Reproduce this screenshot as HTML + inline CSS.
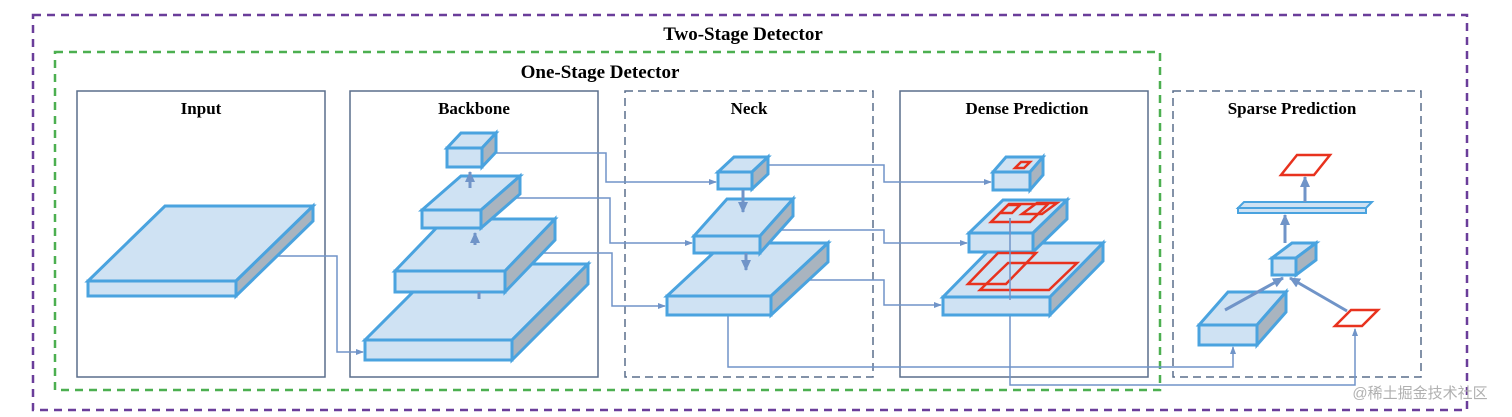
<!DOCTYPE html>
<html><head><meta charset="utf-8"><style>
html,body{margin:0;padding:0;background:#fff;}
svg{display:block;}
text{font-family:"Liberation Serif",serif;font-weight:bold;fill:#000;}
</style></head><body>
<svg width="1512" height="417" viewBox="0 0 1512 417" xmlns="http://www.w3.org/2000/svg">
<defs>
<marker id="a" markerWidth="8" markerHeight="8" refX="7" refY="4" orient="auto" markerUnits="userSpaceOnUse"><path d="M0,1 L8,4 L0,7 Z" fill="#7094c8"/></marker>
<marker id="b" markerWidth="12" markerHeight="12" refX="10" refY="6" orient="auto" markerUnits="userSpaceOnUse"><path d="M0,1 L11,6 L0,11 Z" fill="#7094c8"/></marker>
</defs>
<rect width="1512" height="417" fill="#fff"/>
<!-- frames -->
<rect x="33" y="15" width="1434" height="395" fill="none" stroke="#6a3d9a" stroke-width="2.5" stroke-dasharray="8,6"/>
<rect x="55" y="52" width="1105" height="338" fill="none" stroke="#4caf50" stroke-width="2.5" stroke-dasharray="8,6"/>
<g fill="none" stroke="#5a6e8c" stroke-width="1.5">
<rect x="77" y="91" width="248" height="286"/>
<rect x="350" y="91" width="248" height="286"/>
<rect x="625" y="91" width="248" height="286" stroke-dasharray="8,5"/>
<rect x="900" y="91" width="248" height="286"/>
<rect x="1173" y="91" width="248" height="286" stroke-dasharray="8,5"/>
</g>
<text x="743" y="40" font-size="19" text-anchor="middle">Two-Stage Detector</text>
<text x="600" y="78" font-size="19" text-anchor="middle">One-Stage Detector</text>
<g font-size="17" text-anchor="middle">
<text x="201" y="114" style="font-size:17px">Input</text>
<text x="474" y="114" style="font-size:17px">Backbone</text>
<text x="749" y="114" style="font-size:17px">Neck</text>
<text x="1027" y="114" style="font-size:17px">Dense Prediction</text>
<text x="1292" y="114" style="font-size:17px">Sparse Prediction</text>
</g>
<!-- connectors -->
<g fill="none" stroke="#7094c8" stroke-width="1.5">
<polyline points="270,256 337,256 337,352 363,352" marker-end="url(#a)"/>
<polyline points="482,153 606,153 606,182 716,182" marker-end="url(#a)"/>
<polyline points="505,198 610,198 610,243 692,243" marker-end="url(#a)"/>
<polyline points="530,253 612,253 612,306 665,306" marker-end="url(#a)"/>
<polyline points="760,165 884,165 884,182 991,182" marker-end="url(#a)"/>
<polyline points="780,230 884,230 884,243 967,243" marker-end="url(#a)"/>
<polyline points="800,280 884,280 884,305 941,305" marker-end="url(#a)"/>
<polyline points="728,253 728,367 1233,367 1233,347" marker-end="url(#a)"/>
<polyline points="1010,228 1010,385 1355,385 1355,329" marker-end="url(#a)"/>
</g>
<g fill="#cfe2f3" stroke="#4aa3df" stroke-width="3" stroke-linejoin="miter">
<!-- input -->
<polygon points="88,281 236,281 313,206 165,206"/>
<polygon points="236,281 313,206 313,221 236,296" fill="#a9b4bf"/>
<rect x="88" y="281" width="148" height="15"/>
<!-- backbone big -->
<polygon points="365,340 512,340 588,264 441,264"/>
<polygon points="512,340 588,264 588,284 512,360" fill="#a9b4bf"/>
<rect x="365" y="340" width="147" height="20"/>
<!-- second -->
<polygon points="395,271 505,271 555,219 445,219"/>
<polygon points="505,271 555,219 555,240 505,292" fill="#a9b4bf"/>
<rect x="395" y="271" width="110" height="21"/>
<!-- third -->
<polygon points="422,210 481,210 520,176 461,176"/>
<polygon points="481,210 520,176 520,194 481,228" fill="#a9b4bf"/>
<rect x="422" y="210" width="59" height="18"/>
<!-- small -->
<polygon points="447,148 482,148 496,133 461,133"/>
<polygon points="482,148 496,133 496,152 482,167" fill="#a9b4bf"/>
<rect x="447" y="148" width="35" height="19"/>
<!-- neck big -->
<polygon points="667,296 771,296 828,243 724,243"/>
<polygon points="771,296 828,243 828,262 771,315" fill="#a9b4bf"/>
<rect x="667" y="296" width="104" height="19"/>
<!-- neck mid -->
<polygon points="694,236 760,236 793,199 727,199"/>
<polygon points="760,236 793,199 793,216 760,253" fill="#a9b4bf"/>
<rect x="694" y="236" width="66" height="17"/>
<!-- neck small -->
<polygon points="718,172 752,172 768,157 734,157"/>
<polygon points="752,172 768,157 768,174 752,189" fill="#a9b4bf"/>
<rect x="718" y="172" width="34" height="17"/>
<!-- dense big -->
<polygon points="943,297 1050,297 1103,243 996,243"/>
<polygon points="1050,297 1103,243 1103,261 1050,315" fill="#a9b4bf"/>
<rect x="943" y="297" width="107" height="18"/>
<!-- dense mid -->
<polygon points="969,233 1033,233 1067,200 1003,200"/>
<polygon points="1033,233 1067,200 1067,219 1033,252" fill="#a9b4bf"/>
<rect x="969" y="233" width="64" height="19"/>
<!-- dense small -->
<polygon points="993,172 1030,172 1043,157 1006,157"/>
<polygon points="1030,172 1043,157 1043,175 1030,190" fill="#a9b4bf"/>
<rect x="993" y="172" width="37" height="18"/>
<!-- sparse big -->
<polygon points="1199,325 1257,325 1286,292 1228,292"/>
<polygon points="1257,325 1286,292 1286,312 1257,345" fill="#a9b4bf"/>
<rect x="1199" y="325" width="58" height="20"/>
<!-- sparse small -->
<polygon points="1272,258 1296,258 1316,243 1292,243"/>
<polygon points="1296,258 1316,243 1316,260 1296,275" fill="#a9b4bf"/>
<rect x="1272" y="258" width="24" height="17"/>
<!-- bar -->
<polygon points="1238,208 1366,208 1372,202 1244,202" stroke-width="2"/>
<rect x="1238" y="208" width="128" height="5" stroke-width="2"/>
</g>
<!-- dense vertical line over top of mid -->
<line x1="1010" y1="218" x2="1010" y2="232" stroke="#7094c8" stroke-width="1.5"/>
<!-- red boxes -->
<g fill="none" stroke="#e8321e" stroke-width="2.5">
<polygon points="1015,168 1024,168 1030,162 1021,162"/>
<polygon points="991,222 1030,222 1048,204 1009,204"/>
<polygon points="1000,213 1012,213 1020,205 1008,205"/>
<polygon points="1022,214 1042,214 1057,203 1037,203"/>
<polygon points="968,284 1006,284 1036,253 998,253"/>
<polygon points="980,290 1049,290 1077,263 1008,263"/>
<polygon points="1281,175 1314,175 1330,155 1297,155"/>
<polygon points="1335,326 1362,326 1378,310 1351,310"/>
</g>
<line x1="1010" y1="218" x2="1010" y2="300" stroke="#7094c8" stroke-width="1.5"/>
<!-- internal arrows -->
<g stroke="#7094c8" stroke-width="3" fill="none">
<line x1="470" y1="188" x2="470" y2="172" marker-end="url(#b)"/>
<line x1="475" y1="245" x2="475" y2="233" marker-end="url(#b)"/>
<line x1="479" y1="292" x2="479" y2="299"/>
<line x1="743" y1="190" x2="743" y2="212" marker-end="url(#b)"/>
<line x1="746" y1="253" x2="746" y2="270" marker-end="url(#b)"/>
<line x1="1225" y1="310" x2="1283" y2="278" marker-end="url(#b)"/>
<line x1="1347" y1="311" x2="1290" y2="278" marker-end="url(#b)"/>
<line x1="1285" y1="243" x2="1285" y2="215" marker-end="url(#b)"/>
<line x1="1305" y1="202" x2="1305" y2="177" marker-end="url(#b)"/>
</g>
<text x="1420" y="398" font-size="15" text-anchor="middle" style="font-family:'Liberation Sans','Noto Sans CJK SC',sans-serif;font-weight:normal;fill:#b0b0b0;">@稀土掘金技术社区</text>
</svg>
</body></html>
